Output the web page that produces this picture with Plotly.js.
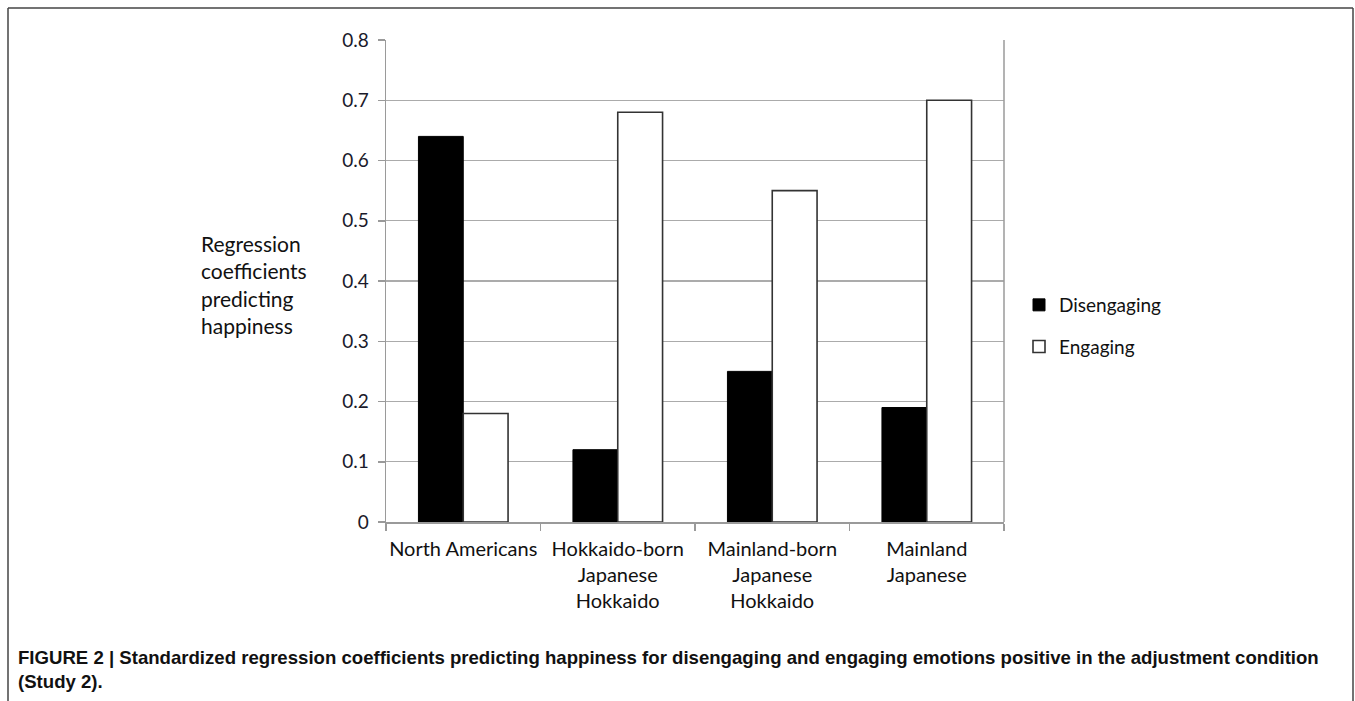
<!DOCTYPE html>
<html>
<head>
<meta charset="utf-8">
<script src="https://cdn.plot.ly/plotly-3.0.1.min.js"></script>
<style>
  html, body { margin: 0; padding: 0; background: #fff; }
  #chart { width: 1355px; height: 701px; }
</style>
</head>
<body>
<div id="chart"></div>
<script>
const categories = [
  "North Americans",
  "Hokkaido-born<br>Japanese<br>Hokkaido",
  "Mainland-born<br>Japanese<br>Hokkaido",
  "Mainland<br>Japanese"
];
const disengaging = [0.64, 0.12, 0.25, 0.19];
const engaging = [0.18, 0.68, 0.55, 0.70];
const yTicks = [0, 0.1, 0.2, 0.3, 0.4, 0.5, 0.6, 0.7, 0.8];
const yTickLabels = ["0", "0.1", "0.2", "0.3", "0.4", "0.5", "0.6", "0.7", "0.8"];
const seriesNames = ["Disengaging", "Engaging"];
const caption = "<b>FIGURE 2 | Standardized regression coefficients predicting happiness for disengaging and engaging emotions positive in the adjustment condition<br>(Study 2).</b>";
const yTitle = "Regression<br>coefficients<br>predicting<br>happiness";

const W = 1355, H = 701;
const L = 386, R = 1004, T = 40, B = 522;
const px = x => (x - L) / (R - L);
const py = y => (B - y) / (B - T);

const font = "Lato, Calibri, 'Open Sans', sans-serif";

const traces = [
  {
    type: "bar", name: seriesNames[0], x: categories, y: disengaging,
    legendgroup: "g1",
    marker: { color: "#000000", line: { color: "#000000", width: 1 } },
    hoverinfo: "x+y"
  },
  {
    type: "bar", name: seriesNames[1], x: categories, y: engaging,
    legendgroup: "g2",
    marker: { color: "#ffffff", line: { color: "#333333", width: 1.6 } },
    hoverinfo: "x+y"
  }
];

const layout = {
  width: W, height: H,
  margin: { l: L, r: W - R, t: T, b: H - B, pad: 0 },
  paper_bgcolor: "#ffffff",
  plot_bgcolor: "#ffffff",
  barmode: "group",
  bargap: 0.42,
  bargroupgap: 0,
  showlegend: true,
  legend: {
    x: px(1019), y: py(286), xanchor: "left", yanchor: "top",
    font: { family: font, size: 19, color: "#111" },
    traceorder: "grouped",
    itemwidth: 30,
    tracegroupgap: 14,
    bgcolor: "rgba(0,0,0,0)"
  },
  font: { family: font, color: "#111" },
  xaxis: {
    type: "category",
    showgrid: false,
    showline: true, linecolor: "#9a9a9a", linewidth: 1.5,
    ticks: "outside", ticklen: 7, tickcolor: "#9a9a9a", tickwidth: 1.5,
    tickson: "boundaries",
    tickangle: 0,
    tickfont: { family: font, size: 20, color: "#111" },
    ticklabelstandoff: 8,
    mirror: false,
    fixedrange: true
  },
  yaxis: {
    range: [0, 0.8],
    tickvals: yTicks, ticktext: yTickLabels,
    showgrid: true, gridcolor: "#ababab", gridwidth: 1.2,
    showline: true, linecolor: "#9a9a9a", linewidth: 1.5,
    ticks: "outside", ticklen: 7, tickcolor: "#9a9a9a", tickwidth: 1.5,
    tickfont: { family: font, size: 19, color: "#1a1a2a" },
    ticklabelstandoff: 5,
    zeroline: false,
    fixedrange: true
  },
  shapes: [
    { type: "line", xref: "paper", yref: "paper", x0: 1, x1: 1, y0: 0, y1: 1,
      line: { color: "#9a9a9a", width: 1.5 } },
    { type: "line", xref: "paper", yref: "paper", x0: px(8), x1: px(8), y0: py(8), y1: py(702),
      line: { color: "#444", width: 1.5 } },
    { type: "line", xref: "paper", yref: "paper", x0: px(8), x1: px(1353), y0: py(8), y1: py(8),
      line: { color: "#444", width: 1.5 } },
    { type: "line", xref: "paper", yref: "paper", x0: px(1353), x1: px(1353), y0: py(8), y1: py(702),
      line: { color: "#444", width: 1.5 } }
  ],
  annotations: [
    {
      xref: "paper", yref: "paper", x: px(309), y: py(229),
      xanchor: "right", yanchor: "top", align: "left",
      text: yTitle, showarrow: false,
      font: { family: font, size: 21, color: "#111" }
    },
    {
      xref: "paper", yref: "paper", x: px(16), y: py(645),
      xanchor: "left", yanchor: "top", align: "left",
      text: caption, showarrow: false,
      font: { family: "'Liberation Sans', Arial, sans-serif", size: 18.6, color: "#111" }
    }
  ]
};

Plotly.newPlot("chart", traces, layout, { displayModeBar: false, staticPlot: true });
</script>
</body>
</html>
